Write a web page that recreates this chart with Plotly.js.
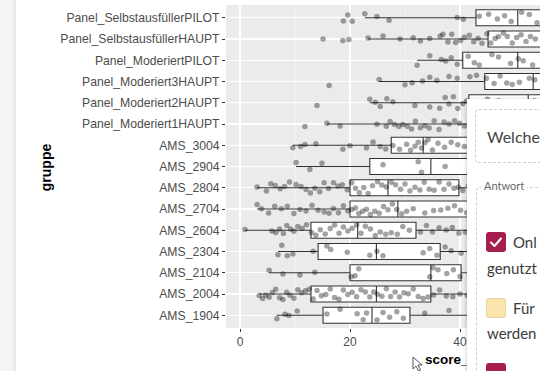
<!DOCTYPE html>
<html>
<head>
<meta charset="utf-8">
<script src="https://cdn.plot.ly/plotly-3.0.1.min.js"></script>
<style>
  html, body { margin:0; padding:0; }
  body { width:540px; height:371px; overflow:hidden; position:relative; background:#fff; }
  #plot { position:absolute; left:0; top:0; width:540px; height:371px; }
  #strip { position:absolute; left:0; top:0; width:13px; height:371px; background:#f4f4f4; border-right:3px solid #e8e8e8; }
  #popup { position:absolute; left:467px; top:99px; width:120px; height:300px; background:#fff;
           box-shadow:-1px 0 3px rgba(0,0,0,0.18); font-family:Lato, "Open Sans", sans-serif; color:#3a3a3a; }
  .abs { position:absolute; white-space:nowrap; }
  .dash { position:absolute; border:1px dashed #cfcfcf; border-radius:4px; }
  .cb { position:absolute; width:20px; height:20px; border-radius:3px; }
  .cb.on { background:#a61d4f; }
  .cb.off { background:#fbe6ad; border:1px solid #e6d3a0; width:18px; height:18px; }
</style>
</head>
<body>
<div id="plot"></div>
<div id="strip"></div>
<div id="popup">
  <div class="dash" style="left:8px; top:10px; width:110px; height:52px;"></div>
  <div class="abs" style="left:20px; top:28px; font-size:16px; color:#444;">Welche</div>
  <div class="dash" style="left:9px; top:88px; width:110px; height:240px;"></div>
  <div class="abs" style="left:14px; top:80px; font-size:11px; color:#666; background:#fff; padding:0 3px;">Antwort</div>
  <div class="cb on" style="left:19px; top:133px;">
    <svg width="20" height="20"><path d="M5 10.5 L8.5 14 L15 6.5" stroke="#fff" stroke-width="2" fill="none" stroke-linecap="round" stroke-linejoin="round"/></svg>
  </div>
  <div class="abs" style="left:46px; top:134px; font-size:15px;">Onl</div>
  <div class="abs" style="left:20px; top:160px; font-size:15px;">genutzt</div>
  <div class="cb off" style="left:19px; top:199px;"></div>
  <div class="abs" style="left:46px; top:200px; font-size:15px;">Für</div>
  <div class="abs" style="left:20px; top:225px; font-size:15px;">werden</div>
  <div class="cb on" style="left:19px; top:264px;"></div>
</div>
<svg style="position:absolute; left:412px; top:356px;" width="14" height="16">
  <path d="M1 1 L1 13 L4 10 L6.5 15 L8.5 14 L6 9 L10 9 Z" fill="#fff" stroke="#444" stroke-width="0.9"/>
</svg>
<script>
const groups = ["Panel_SelbstausfüllerPILOT","Panel_SelbstausfüllerHAUPT","Panel_ModeriertPILOT",
  "Panel_Moderiert3HAUPT","Panel_Moderiert2HAUPT","Panel_Moderiert1HAUPT","AMS_3004","AMS_2904",
  "AMS_2804","AMS_2704","AMS_2604","AMS_2304","AMS_2104","AMS_2004","AMS_1904"];

const lowerWhisker = [22.7, 23.3, 32.2, 25.3, 23.6, 15.8, 9.6, 10.2, 3.1, 3.1, 0.9, 6.9, 5.3, 3.5, 6.7];
const q1           = [42.9, 45.1, 40.5, 44.5, 41.6, 43.5, 27.5, 23.6, 20.0, 20.0, 12.9, 14.2, 20.0, 12.9, 15.1];
const medians      = [50.5, 56.5, 50.5, 53.3, 52.4, 52.0, 33.3, 34.7, 26.9, 28.7, 21.4, 24.8, 34.7, 24.8, 24.0];
const q3           = [58.0, 62.0, 57.0, 60.0, 60.0, 60.0, 42.0, 46.0, 39.8, 42.0, 32.0, 36.4, 40.2, 34.7, 30.9];
const upperWhisker = [68, 72, 66, 70, 70, 70, 52, 55, 55, 55, 47, 50, 48, 49, 44];

const ptsSelbstPILOT = [18.8, 19.6, 20.4, 22.7, 24.9, 27.1, 39.5, 40.6, 43.5, 45.2, 46.8, 48.1, 49.3, 51.2, 52.6, 54.0, 56.5, 60, 64];
const ptsSelbstHAUPT = [15.1, 18.7, 19.8, 23.3, 26.0, 29.1, 31.5, 32.8, 34.5, 36.4, 36.9, 37.8, 38.5, 39.2, 40.1, 40.8, 41.7, 42.5, 43.3, 44.0, 44.9, 45.6, 46.4, 47.0, 47.9, 48.6, 49.5, 50.3, 51.1, 52.0, 52.8, 53.7, 55, 57, 60, 63, 68];
const ptsModPILOT = [32.2, 34.5, 36.6, 37.4, 38.4, 39.5, 41.5, 42.6, 43.5, 45.8, 47.0, 49.2, 50.6, 51.5, 53.2, 55, 57, 60];
const ptsMod3 = [16.2, 25.3, 30.0, 31.3, 33.2, 34.5, 35.8, 38.0, 39.5, 41.8, 43.0, 44.8, 46.2, 47.3, 48.5, 49.5, 50.8, 52.6, 53.6, 56, 59, 63];
const ptsMod2 = [14.0, 23.6, 24.6, 25.5, 26.7, 27.8, 31.8, 34.5, 36.3, 37.3, 38.0, 38.8, 39.6, 40.5, 41.2, 43, 45, 47, 49.5, 51.5, 53.5, 57, 62];
const ptsMod1 = [11.8, 15.8, 18.2, 24.9, 26.6, 27.3, 28.1, 28.9, 29.6, 30.4, 31.2, 31.9, 32.8, 33.6, 34.4, 35.3, 36.2, 37.1, 38.0, 39.0, 39.9, 40.8, 42, 44, 46, 49, 52, 55, 58, 62];
const pts3004 = [9.6, 11.0, 11.8, 13.8, 18.7, 20.0, 23.0, 24.2, 25.5, 26.5, 27.8, 29.0, 30.3, 31.0, 31.8, 32.4, 33.0, 33.6, 34.2, 35.0, 36.0, 37.2, 38.4, 39.6, 40.8, 43, 46, 50];
const pts2904 = [10.2, 12.7, 14.9, 26.0, 32.4, 33.0, 37.3, 44, 48, 52];
const pts2804 = [3.1, 4.8, 5.6, 6.4, 7.3, 8.1, 9.0, 10.2, 11.1, 12.0, 12.8, 13.6, 14.5, 15.3, 16.1, 17.0, 17.8, 18.6, 19.5, 20.3, 21.0, 21.7, 22.5, 23.3, 24.1, 25.0, 25.8, 26.6, 27.5, 28.3, 29.2, 30.0, 30.9, 31.8, 32.7, 33.5, 34.4, 35.3, 36.2, 37.1, 38.0, 38.9, 39.7, 40.5, 41.5, 44, 48];
const pts2704 = [3.1, 3.9, 5.2, 6.3, 7.5, 8.6, 9.8, 10.9, 12.0, 13.1, 14.2, 15.3, 16.2, 17.0, 17.9, 18.8, 19.6, 20.3, 21.0, 21.6, 22.3, 23.0, 23.7, 24.5, 25.3, 26.1, 26.9, 27.7, 28.5, 29.4, 30.3, 31.5, 33.6, 35.2, 36.5, 37.8, 39.0, 40.1, 41.2, 43, 45, 49];
const pts2604 = [0.9, 5.8, 6.5, 7.2, 7.9, 8.5, 9.2, 9.8, 10.5, 11.3, 12.1, 13.0, 13.8, 14.6, 15.5, 16.4, 17.2, 18.0, 18.8, 19.6, 20.4, 21.2, 22.0, 22.8, 23.7, 24.6, 25.5, 26.5, 27.5, 28.6, 29.6, 30.8, 32.8, 33.9, 35.0, 36.2, 37.5, 38.6, 39.8, 41, 43, 46];
const pts2304 = [6.9, 7.6, 8.6, 9.6, 13.3, 15.8, 16.5, 19.5, 23.6, 24.9, 26.0, 33.3, 34.5, 35.8, 37.3, 38.4, 40.2, 42, 45, 50];
const pts2104 = [5.3, 7.8, 10.9, 13.6, 20.2, 20.9, 21.6, 34.5, 35.1, 36.0, 37.6, 38.8, 40.0, 44, 48];
const pts2004 = [3.5, 4.1, 4.7, 5.3, 5.9, 6.5, 7.2, 7.8, 8.5, 9.1, 9.8, 10.5, 11.2, 11.9, 12.6, 13.3, 14.0, 14.8, 15.6, 16.4, 17.2, 18.0, 18.8, 19.6, 20.4, 21.2, 22.0, 22.8, 23.6, 24.3, 25.0, 25.8, 26.6, 27.4, 28.2, 29.0, 29.8, 30.6, 31.5, 32.4, 33.3, 34.2, 35.2, 36.3, 37.5, 38.7, 40.0, 41.3, 44, 49];
const pts1904 = [6.7, 8.2, 8.9, 10.4, 15.8, 18.2, 21.3, 22.4, 23.0, 24.9, 26.0, 27.2, 28.5, 29.7, 33.6, 38, 42];

const pointSets = [ptsSelbstPILOT, ptsSelbstHAUPT, ptsModPILOT, ptsMod3, ptsMod2, ptsMod1, pts3004,
  pts2904, pts2804, pts2704, pts2604, pts2304, pts2104, pts2004, pts1904];

const px = [], py = [];
pointSets.forEach((arr, i) => arr.forEach(v => { px.push(v); py.push(groups[i]); }));

const boxTrace = {
  type: 'box', orientation: 'h', y: groups,
  q1: q1, median: medians, q3: q3, lowerfence: lowerWhisker, upperfence: upperWhisker,
  width: 0.75, fillcolor: '#ffffff', line: {color: '#333333', width: 1.1},
  whiskerwidth: 0, boxpoints: false, hoverinfo: 'skip'
};
const pointTrace = {
  type: 'box', orientation: 'h', x: px, y: py,
  boxpoints: 'all', jitter: 0.8, pointpos: 0, width: 0.75,
  fillcolor: 'rgba(0,0,0,0)', line: {color: 'rgba(0,0,0,0)', width: 0}, whiskerwidth: 0,
  marker: {color: 'rgba(0,0,0,0.36)', size: 5.5, line: {width: 0}}, hoverinfo: 'skip'
};

const layout = {
  width: 540, height: 371,
  margin: {l: 226, r: 0, t: 5, b: 43, pad: 0},
  paper_bgcolor: '#ffffff', plot_bgcolor: '#ebebeb',
  showlegend: false, boxmode: 'overlay',
  font: {family: 'Liberation Sans, Arial, sans-serif'},
  xaxis: {
    range: [-2.545, 54.545], tick0: 0, dtick: 20, ticks: 'outside', ticklen: 3,
    tickcolor: '#333333', tickwidth: 1, tickfont: {size: 12, color: '#4d4d4d'},
    showgrid: true, gridcolor: '#ffffff', gridwidth: 1.1, zeroline: false, showline: false,
    minor: {tick0: 0, dtick: 10, showgrid: true, gridcolor: '#f6f6f6', gridwidth: 0.6, ticks: ''}
  },
  yaxis: {
    type: 'category', categoryorder: 'array', categoryarray: groups, range: [14.6, -0.6],
    ticks: 'outside', ticklen: 3, tickcolor: '#333333', tickwidth: 1,
    tickfont: {size: 12.2, color: '#4d4d4d'},
    showgrid: true, gridcolor: '#ffffff', gridwidth: 1.1, zeroline: false, showline: false
  },
  annotations: [
    {text: '<b>gruppe</b>', xref: 'paper', yref: 'paper', x: -0.573, y: 0.498, textangle: -90,
     showarrow: false, xanchor: 'center', yanchor: 'middle', font: {size: 14, color: '#000'}},
    {text: '<b>score_gesamt</b>', xref: 'paper', yref: 'paper', x: 0.627, y: -0.096,
     showarrow: false, xanchor: 'left', yanchor: 'middle', font: {size: 13.5, color: '#000'}}
  ]
};

Plotly.newPlot('plot', [boxTrace, pointTrace], layout, {displayModeBar: false, staticPlot: true});
</script>
</body>
</html>
